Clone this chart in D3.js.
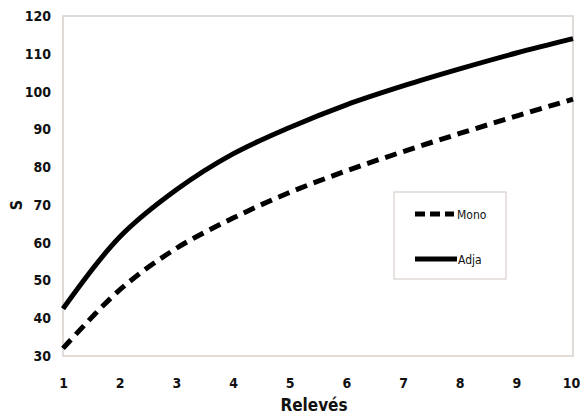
<!DOCTYPE html>
<html><head><meta charset="utf-8">
<script src="https://cdn.jsdelivr.net/npm/d3@7"></script>
<style>
body{margin:0;background:#fff;}
text{font-family:"DejaVu Sans Condensed","Liberation Sans Narrow",sans-serif;font-weight:bold;fill:#111;}
</style></head>
<body><svg id="c" width="580" height="418"></svg>
<script>
const releves = [1,2,3,4,5,6,7,8,9,10];
const mono = [32, 47.5, 58.5, 66.5, 73.3, 79, 84.1, 88.9, 93.5, 98];
const adja = [42.5, 61.5, 74, 83.5, 90.5, 96.5, 101.5, 106, 110.2, 114];
const yTicks = [30,40,50,60,70,80,90,100,110,120];
const seriesNames = ["Mono","Adja"];

const svg = d3.select("#c");
const L=63, R=573, T=16, B=356;
const x = d3.scaleLinear().domain([1,10]).range([L,R]);
const y = d3.scaleLinear().domain([30,120]).range([B,T]);

svg.append("rect").attr("x",L).attr("y",T).attr("width",R-L).attr("height",B-T)
  .attr("fill","none").attr("stroke","#d8cfca").attr("stroke-width",1.5);

const yAxis = svg.append("g").attr("transform",`translate(${L},0)`)
  .call(d3.axisLeft(y).tickValues(yTicks).tickSize(0).tickPadding(12));
yAxis.select(".domain").remove();
yAxis.selectAll("text").style("font-size","14px");

const xAxis = svg.append("g").attr("transform",`translate(0,${B})`)
  .call(d3.axisBottom(x).tickValues(releves).tickSize(0).tickPadding(22));
xAxis.select(".domain").remove();
xAxis.selectAll("text").style("font-size","14px")
  .attr("dx",d=>d===10?-2:0);

svg.append("text").attr("x",(L+R)/2 -4).attr("y",411).attr("text-anchor","middle")
  .style("font-size","17px").text("Relevés");
svg.append("text").attr("transform","translate(22,205) rotate(-90)").attr("text-anchor","middle")
  .style("font-size","16px").text("S");

const line = d3.line().x((d,i)=>x(releves[i])).y(d=>y(d)).curve(d3.curveCatmullRom.alpha(0.5));
svg.append("path").datum(mono).attr("d",line).attr("fill","none").attr("stroke","#000")
  .attr("stroke-width",5).attr("stroke-dasharray","12,7");
svg.append("path").datum(adja).attr("d",line).attr("fill","none").attr("stroke","#000")
  .attr("stroke-width",5);

// legend
const lg = svg.append("g");
lg.append("rect").attr("x",394).attr("y",192).attr("width",112).attr("height",87)
  .attr("fill","#fff").attr("stroke","#d8cfca").attr("stroke-width",1.2);
lg.append("line").attr("x1",415).attr("x2",454).attr("y1",214).attr("y2",214)
  .attr("stroke","#000").attr("stroke-width",5).attr("stroke-dasharray","10,5");
lg.append("text").attr("x",457).attr("y",219).style("font-size","12px").style("font-weight","normal").text(seriesNames[0]);
lg.append("line").attr("x1",415).attr("x2",457).attr("y1",259).attr("y2",259)
  .attr("stroke","#000").attr("stroke-width",5);
lg.append("text").attr("x",458).attr("y",264).style("font-size","12px").style("font-weight","normal").text(seriesNames[1]);
</script></body></html>
